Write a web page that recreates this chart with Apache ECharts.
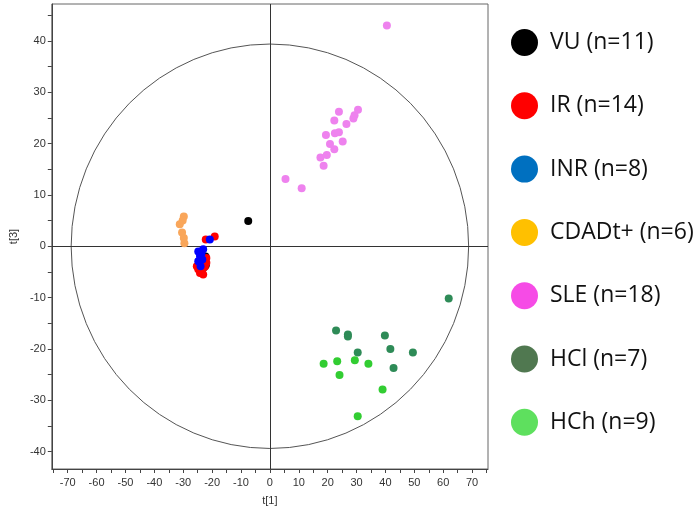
<!DOCTYPE html>
<html>
<head>
<meta charset="utf-8">
<script src="https://cdn.jsdelivr.net/npm/echarts@6/dist/echarts.min.js"></script>
<style>
  html, body { margin: 0; padding: 0; background: #fff; }
  #chart { width: 700px; height: 511px; }
</style>
</head>
<body>
<div id="chart"></div>
<script>
// score values, [t1, t3]
const vuPoints = [[-7.5, 4.9], [-22.3, -2.0], [-22.2, -3.7], [-22.6, -3.0], [-23.0, -4.2], [-23.5, -2.5]];
const irPoints = [[-19.1, 1.9], [-22.2, 1.3], [-22.0, -2.3], [-25.3, -3.9], [-24.2, -5.2], [-23.1, -5.5], [-24.8, -4.5], [-22.5, -4.0], [-22.0, -3.2], [-23.5, -4.8]];
const inrPoints = [[-20.8, 1.3], [-24.8, -1.0], [-23.1, -0.6], [-24.2, -1.9], [-24.8, -2.9], [-23.7, -1.4], [-24.0, -3.9], [-23.4, -2.6]];
const cdadPoints = [[-29.8, 5.8], [-30.2, 5.0], [-31.2, 4.3], [-30.4, 2.7], [-29.8, 1.6], [-29.6, 0.6]];
const slePoints = [[40.5, 43.0], [5.4, 13.1], [11.0, 11.3], [17.5, 17.3], [18.6, 15.7], [19.7, 17.8], [22.3, 18.9], [20.8, 19.9], [25.2, 20.4], [19.4, 21.7], [22.5, 22.0], [23.9, 22.2], [26.5, 23.8], [22.3, 24.5], [23.9, 26.2], [28.9, 24.9], [29.3, 25.5], [30.5, 26.6]];
const hclPoints = [[61.9, -10.2], [22.9, -16.4], [27.0, -17.2], [27.0, -17.6], [39.8, -17.4], [30.4, -20.7], [41.7, -20.0], [49.5, -20.7], [42.8, -23.7]];
const hchPoints = [[18.6, -22.9], [23.3, -22.4], [29.4, -22.2], [34.1, -22.9], [24.1, -25.1], [39.0, -27.9], [30.4, -33.1]];

const groupNames = ['VU (n=11)', 'IR (n=14)', 'INR (n=8)', 'CDADt+ (n=6)', 'SLE (n=18)', 'HCl (n=7)', 'HCh (n=9)'];
const plotColors = ['#000000', '#ff0000', '#0000ff', '#f9a65a', '#ee82ee', '#2e8b57', '#32cd32'];
const legendColors = ['#000000', '#ff0000', '#0070c0', '#ffc000', '#f64be6', '#507850', '#5ee05e'];

// axis ranges and ticks
const xRange = [-75.5, 75.5];
const yRange = [-43.4, 47.2];
const xLabels = [-70, -60, -50, -40, -30, -20, -10, 0, 10, 20, 30, 40, 50, 60, 70];
const xTicks = [-75, -70, -65, -60, -55, -50, -45, -40, -35, -30, -25, -20, -15, -10, -5, 0, 5, 10, 15, 20, 25, 30, 35, 40, 45, 50, 55, 60, 65, 70, 75];
const yLabels = [-40, -30, -20, -10, 0, 10, 20, 30, 40];
const yTicks = [-40, -35, -30, -25, -20, -15, -10, -5, 0, 5, 10, 15, 20, 25, 30, 35, 40, 45];
// Hotelling T2 ellipse radii
const ellipseRadii = [68.8, 39.4];

const groupData = [vuPoints, irPoints, inrPoints, cdadPoints, slePoints, hclPoints, hchPoints];

let chart = echarts.init(document.getElementById('chart'));

let series = [
  {
    type: 'custom',
    name: 'ellipse',
    silent: true,
    data: [[0, 0]],
    renderItem: function (params, api) {
      const c = api.coord([0, 0]);
      const r = api.size([ellipseRadii[0], ellipseRadii[1]]);
      const p = 'M ' + (c[0] - r[0]) + ' ' + c[1] +
        ' A ' + r[0] + ' ' + r[1] + ' 0 1 0 ' + (c[0] + r[0]) + ' ' + c[1] +
        ' A ' + r[0] + ' ' + r[1] + ' 0 1 0 ' + (c[0] - r[0]) + ' ' + c[1] + ' Z';
      return {
        type: 'path',
        shape: { pathData: p, x: c[0] - r[0], y: c[1] - r[1], width: 2 * r[0], height: 2 * r[1], layout: 'cover' },
        style: { fill: 'none', stroke: '#555', lineWidth: 1 }
      };
    },
    markLine: {
      silent: true,
      symbol: 'none',
      label: { show: false },
      lineStyle: { color: '#333', type: 'solid', width: 1 },
      data: [{ xAxis: 0 }, { yAxis: 0 }]
    },
    z: 1
  }
];

groupNames.forEach(function (name, i) {
  series.push({
    type: 'scatter',
    name: name,
    data: groupData[i],
    symbolSize: 8,
    itemStyle: { color: plotColors[i], opacity: 1 },
    z: 3 + i
  });
});

let option = {
  animation: false,
  backgroundColor: '#fff',
  grid: {
    left: 41, right: 212, top: 4, bottom: 41,
    show: true, borderColor: '#666', borderWidth: 1
  },
  legend: {
    orient: 'vertical',
    left: 511,
    top: 29,
    padding: 0,
    icon: 'circle',
    itemWidth: 27,
    itemHeight: 27,
    itemGap: 36.3,
    selectedMode: false,
    textStyle: { fontFamily: 'Open Sans', fontSize: 23, color: '#111', padding: [0, 0, 0, 7] },
    data: groupNames.map(function (n, i) {
      return { name: n, itemStyle: { color: legendColors[i] } };
    })
  },
  xAxis: {
    type: 'value',
    min: xRange[0],
    max: xRange[1],
    name: 't[1]',
    nameLocation: 'middle',
    nameGap: 26,
    nameTextStyle: { fontFamily: 'Liberation Sans', fontSize: 11, color: '#333' },
    axisLine: { onZero: false, lineStyle: { color: '#444' } },
    axisTick: { show: true, length: 4, customValues: xTicks, lineStyle: { color: '#444' } },
    axisLabel: { customValues: xLabels, margin: 8, fontFamily: 'Liberation Sans', fontSize: 11, color: '#333' },
    splitLine: { show: false }
  },
  yAxis: {
    type: 'value',
    min: yRange[0],
    max: yRange[1],
    name: 't[3]',
    nameLocation: 'middle',
    nameGap: 30,
    nameTextStyle: { fontFamily: 'Liberation Sans', fontSize: 11, color: '#333' },
    axisLine: { show: true, onZero: false, lineStyle: { color: '#444' } },
    axisTick: { show: true, length: 4, customValues: yTicks, lineStyle: { color: '#444' } },
    axisLabel: { customValues: yLabels, margin: 6, fontFamily: 'Liberation Sans', fontSize: 11, color: '#333' },
    splitLine: { show: false }
  },
  series: series
};

chart.setOption(option);
</script>
</body>
</html>
